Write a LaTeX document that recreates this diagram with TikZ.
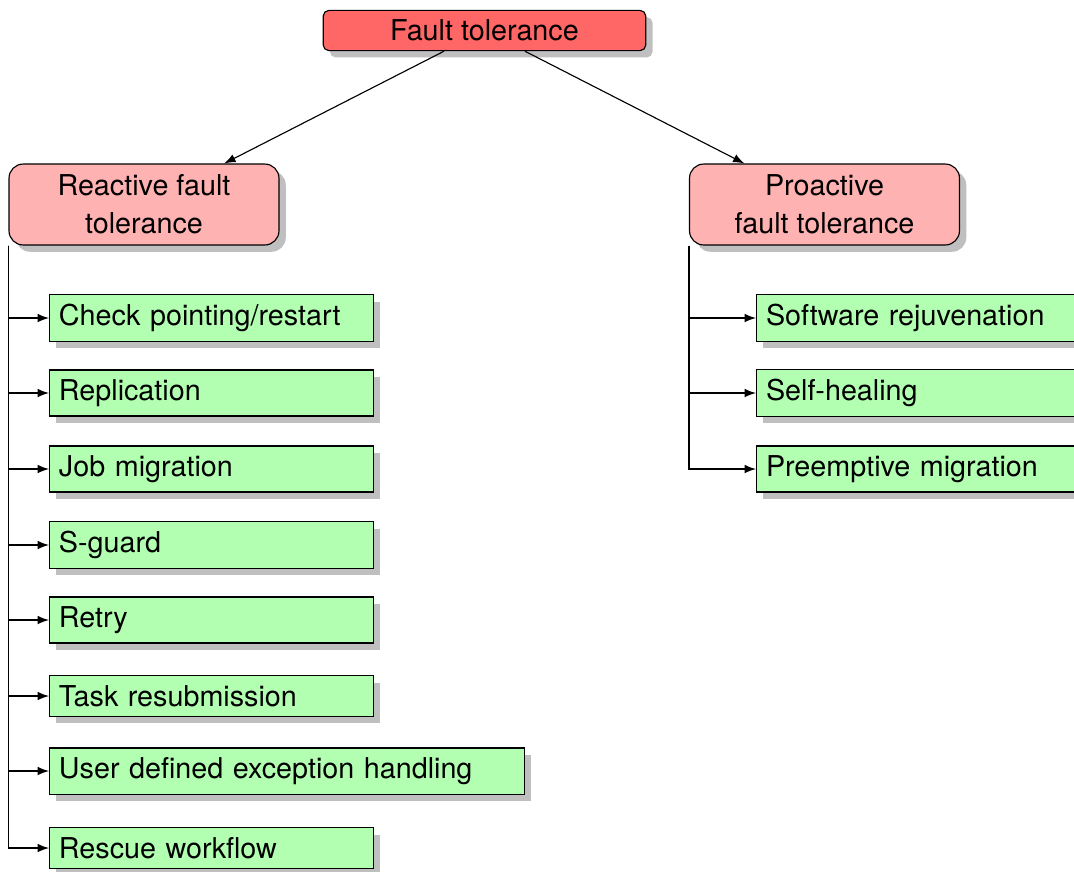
\documentclass[tikz,border=0pt]{standalone}
\usepackage{fontspec}
\setmainfont{TeX Gyre Heros}
\usetikzlibrary{shadows}

\tikzset{
  every node/.style={font=\fontsize{10.15}{12.2}\selectfont},
  shade/.style={drop shadow={shadow xshift=2.4pt,shadow yshift=-2.4pt,fill=black!25,opacity=1}},
  root/.style={draw,fill=red!60,rounded corners=2pt,minimum width=114pt,shade},
  branch/.style={draw,fill=red!30,rounded corners=5pt,minimum width=95.4pt,minimum height=28.6pt,
    align=center,font=\fontsize{10.15}{13.3}\selectfont,shade},
  leaf/.style={draw,fill=green!30,anchor=west,text width=107.8pt,align=left,shade}
}

\begin{document}
\begin{tikzpicture}[x=0.3534pt,y=-0.3534pt,>=latex]
\useasboundingbox (0,0) rectangle (1074,871);

\node[root] (ft) at (484.5,30.5) {Fault tolerance};
\node[branch] (rft) at (144,204.5) {Reactive fault\\tolerance};
\node[branch] (pft) at (824.5,204.5) {Proactive\\fault tolerance};

% reactive techniques
\node[leaf] (c1) at (49,318) {Check pointing/restart};
\node[leaf] (c2) at (49,393) {Replication};
\node[leaf] (c3) at (49,469) {Job migration};
\node[leaf] (c4) at (49,545) {S-guard};
\node[leaf] (c5) at (49,620) {Retry};
\node[leaf] (c6) at (49,696) {Task resubmission};
\node[leaf,text width=161.2pt] (c7) at (49,771) {User defined exception handling};
\node[leaf] (c8) at (49,848) {Rescue workflow};

% proactive techniques
\node[leaf] (p1) at (756,318) {Software rejuvenation};
\node[leaf] (p2) at (756,393) {Self-healing};
\node[leaf] (p3) at (756,469) {Preemptive migration};

\draw[->] (ft) -- (rft);
\draw[->] (ft) -- (pft);
\foreach \n in {c1,c2,c3,c4,c5,c6,c7,c8}
  \draw[->] (rft.south west) |- (\n.west);
\foreach \n in {p1,p2,p3}
  \draw[->] (pft.south west) |- (\n.west);

\end{tikzpicture}
\end{document}
